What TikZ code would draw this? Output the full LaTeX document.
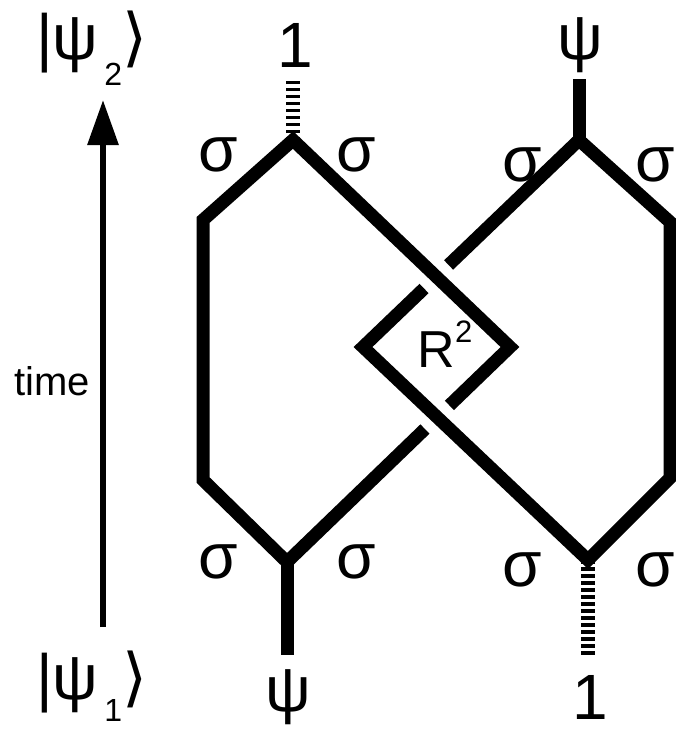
\documentclass[tikz,border=0pt]{standalone}
\usepackage{fontspec}
\setmainfont{Liberation Sans}
\newfontfamily\bracketfont{DejaVu Sans}
\usetikzlibrary{calc,arrows.meta}

\begin{document}
\begin{tikzpicture}[x=1pt, y=-1pt,
    strand/.style={line width=13pt, line join=miter, miter limit=10},
    vacuum/.style={line width=14pt, dash pattern=on 3.5pt off 3.5pt},
    anyon/.style={inner sep=0pt, font=\fontsize{64}{64}\selectfont},
    ket/.style={inner sep=0pt, font=\fontsize{64}{64}\selectfont}]
    \useasboundingbox (0,0) rectangle (676,731);
    % vertices of the two loops and the diamond
    \coordinate (T1) at (293,140);
    \coordinate (T2) at (579,140);
    \coordinate (B1) at (287,562);
    \coordinate (B2) at (588,560);
    \coordinate (L) at (363,347);
    \coordinate (R) at (510,347);
    \coordinate (X1) at (intersection of T1--R and T2--L);
    \coordinate (X2) at (intersection of L--B2 and R--B1);
    % first loop, over at the top crossing
    \draw[strand] ($(X2)!17pt!(B1)$) -- (B1) -- (203,480) -- (203,220) -- (T1) -- (R) -- ($(X2)!17pt!(R)$);
    % second loop, over at the bottom crossing
    \draw[strand] ($(X1)!17pt!(L)$) -- (L) -- (B2) -- (670,478) -- (670,222) -- (T2) -- ($(X1)!17pt!(T2)$);
    % outer legs
    \coordinate (top1) at (293,79);
    \coordinate (top2) at (579,79);
    \coordinate (bot1) at (287,655);
    \coordinate (bot2) at (588,658);
    \draw[vacuum] (T1) -- (top1);
    \draw[line width=13pt] (T2) -- (top2);
    \draw[line width=13pt] (B1) -- (bot1);
    \draw[vacuum] (B2) -- (bot2);
    % labels
    \node[anyon] (one2) at (295,45) {1};
    \node[anyon] (psi2) at (580,45) {ψ};
    \node[anyon] (psi1) at (288,697) {ψ};
    \node[anyon] (one1) at (590,697) {1};
    \foreach \x/\y [count=\i] in {218/155, 356/155, 522/165, 655/165, 218/562, 356/562, 522/570, 655/570}
        \node[anyon] (sig\i) at (\x,\y) {σ};
    \node[inner sep=0pt, anchor=base, font=\fontsize{52}{52}\selectfont] (R2) at (445,367) {R\raisebox{25pt}{\fontsize{31}{31}\selectfont 2}};
    % time axis
    \node[ket, anchor=base west] (ket2) at (36,59) {|ψ\hspace{6pt}\raisebox{-26pt}{\fontsize{32}{32}\selectfont 2}{\bracketfont ⟩}};
    \node[ket, anchor=base west] (ket1) at (36,699) {|ψ\hspace{6pt}\raisebox{-22pt}{\fontsize{32}{32}\selectfont 1}{\bracketfont ⟩}};
    \node[inner sep=0pt, font=\fontsize{40}{40}\selectfont] (time) at (52,381) {time};
    \coordinate (tail) at (103,627);
    \coordinate (tip) at (103,100);
    \draw[line width=6pt, -{Triangle[length=45pt, width=30pt]}] (tail) -- (tip);
\end{tikzpicture}
\end{document}
